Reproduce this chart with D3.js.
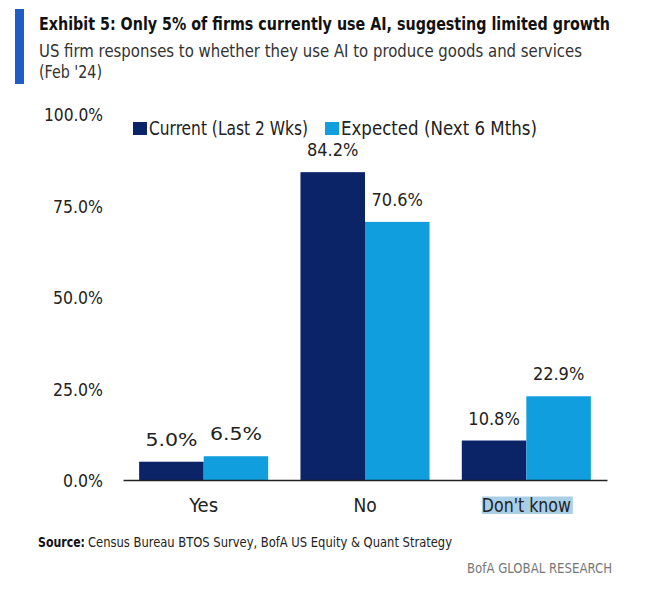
<!DOCTYPE html>
<html><head><meta charset="utf-8">
<script src="https://cdn.jsdelivr.net/npm/d3@7"></script>
<style>body{margin:0;background:#fff}svg{display:block}text{font-family:"Liberation Sans Narrow","DejaVu Sans Condensed","Roboto",sans-serif}</style>
</head><body>
<script>
const categories = ["Yes", "No", "Don't know"];
const seriesNames = ["Current (Last 2 Wks)", "Expected (Next 6 Mths)"];
const currentValues = [5.0, 84.2, 10.8];
const expectedValues = [6.5, 70.6, 22.9];
const yTicks = [0, 25, 50, 75, 100];
const colors = ["#0b2367", "#119edf"];

const W = 654, H = 591;
const svg = d3.select("body").append("svg").attr("width", W).attr("height", H);
const FF = "\"Liberation Sans Narrow\",\"DejaVu Sans Condensed\",Roboto,sans-serif";

function fit(sel, w) {
  sel.each(function(){ const l = this.getComputedTextLength(); if (Math.abs(l - w) > 1) d3.select(this).attr("textLength", w).attr("lengthAdjust", "spacingAndGlyphs"); });
  return sel;
}

// header
svg.append("rect").attr("x", 15).attr("y", 9).attr("width", 9).attr("height", 75).attr("fill", "#1f5cc5");
fit(svg.append("text").attr("x", 39).attr("y", 30).attr("font-size", 17).attr("font-weight", "bold").attr("fill", "#111")
  .text("Exhibit 5: Only 5% of firms currently use AI, suggesting limited growth"), 571);
fit(svg.append("text").attr("x", 39).attr("y", 57).attr("font-size", 18).attr("fill", "#333")
  .text("US firm responses to whether they use AI to produce goods and services"), 543);
fit(svg.append("text").attr("x", 39).attr("y", 78).attr("font-size", 18).attr("fill", "#333")
  .text("(Feb '24)"), 63);

const y = d3.scaleLinear().domain([0, 100]).range([480, 114.4]);
const x = d3.scaleBand().domain(categories).range([123, 607]).paddingInner(0.2).paddingOuter(0.1);
const xs = d3.scaleBand().domain(seriesNames).range([0, x.bandwidth()]);

// y labels
const yAxis = svg.append("g").attr("transform", "translate(103,0)")
  .call(d3.axisLeft(y).tickValues(yTicks).tickSize(0).tickPadding(0).tickFormat(d => d.toFixed(1) + "%"));
yAxis.select(".domain").remove();
yAxis.selectAll("text").attr("font-size", 18).attr("fill", "#222").attr("dy", "0.36em").style("font-family", FF);
yAxis.selectAll("text").each(function(d){ fit(d3.select(this), d === 100 ? 59 : (d === 0 ? 40 : 50)); });

// bars
const data = categories.map((c, i) => ({cat: c, vals: [currentValues[i], expectedValues[i]]}));
const g = svg.append("g");
data.forEach(d => {
  d.vals.forEach((v, j) => {
    const bx = x(d.cat) + xs(seriesNames[j]);
    g.append("rect").attr("x", bx).attr("y", y(v)).attr("width", xs.bandwidth()).attr("height", y(0) - y(v)).attr("fill", colors[j]);
    g.append("text").attr("x", bx + xs.bandwidth() / 2).attr("y", y(v) - 16).attr("text-anchor", "middle")
      .attr("font-size", 18).attr("fill", "#222").text(v.toFixed(1) + "%");
  });
});
g.selectAll("text").each(function(){ fit(d3.select(this), 52); });

// x axis
const xAxis = svg.append("g").attr("transform", "translate(0,480)")
  .call(d3.axisBottom(x).tickSize(0).tickPadding(0).tickSizeOuter(0));
xAxis.select(".domain").attr("stroke", "#222").attr("stroke-width", 1.6);
xAxis.selectAll("text").attr("dy", null).attr("y", 32).attr("font-size", 19).attr("fill", "#222").style("font-family", FF);
xAxis.selectAll(".tick").filter(d => d === "Don't know").insert("rect", "text")
  .attr("x", -44.5).attr("y", 16.5).attr("width", 91).attr("height", 17.5).attr("fill", "#a9cfe6");
xAxis.selectAll("text").each(function(d){ fit(d3.select(this), d === "Yes" ? 29 : d === "No" ? 23 : 89); });

// legend
const leg = [{x: 133, w: 159}, {x: 325, w: 196}];
seriesNames.forEach((s, j) => {
  svg.append("rect").attr("x", leg[j].x).attr("y", 122).attr("width", 14).attr("height", 13).attr("fill", colors[j]);
  fit(svg.append("text").attr("x", leg[j].x + 16).attr("y", 135).attr("font-size", 19).attr("fill", "#222").text(s), leg[j].w);
});

// footer
fit(svg.append("text").attr("x", 38).attr("y", 547).attr("font-size", 14).attr("font-weight", "bold").attr("fill", "#111").text("Source:"), 47);
fit(svg.append("text").attr("x", 88).attr("y", 547).attr("font-size", 14).attr("fill", "#222")
  .text("Census Bureau BTOS Survey, BofA US Equity & Quant Strategy"), 364);
fit(svg.append("text").attr("x", 612).attr("y", 573).attr("text-anchor", "end").attr("font-size", 14).attr("fill", "#777")
  .text("BofA GLOBAL RESEARCH"), 145);
</script>
</body></html>
